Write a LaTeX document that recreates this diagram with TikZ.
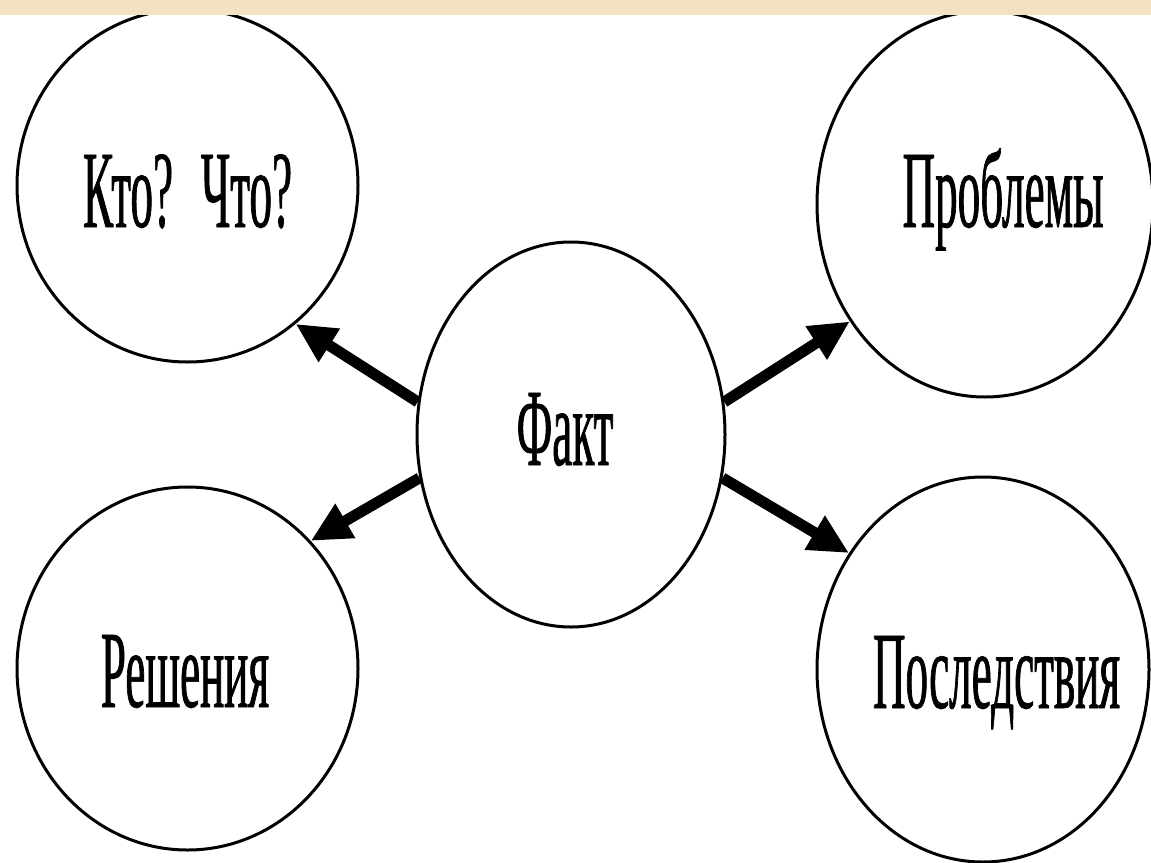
\documentclass[tikz,border=0pt]{standalone}
\usepackage{fontspec}
\newfontfamily\condfont{Liberation Serif}[FakeStretch=0.41,FakeBold=0.6]
\usetikzlibrary{shapes.geometric,arrows.meta}
\definecolor{stripbeige}{RGB}{242,226,192}
\tikzset{
  bubble/.style={ellipse, draw=black, line width=3pt, inner sep=0pt, fill=white},
  lbl/.style={anchor=base, inner sep=0pt, font=\condfont\fontsize{110}{120}\selectfont},
  link/.style={line width=11pt, -{Triangle[length=40pt,width=37pt]}}
}
\begin{document}
\begin{tikzpicture}[x=1pt,y=-1pt]
\useasboundingbox (0,0) rectangle (1151,862);
\fill[white] (0,0) rectangle (1151,862);
% circles
\node[bubble, minimum width=341pt, minimum height=353pt] (kto) at (187.5,185.5) {};
\node[bubble, minimum width=336pt, minimum height=386pt] (prob) at (985,204) {};
\node[bubble, minimum width=308pt, minimum height=385pt] (fact) at (571,434.5) {};
\node[bubble, minimum width=341pt, minimum height=363pt] (resh) at (187.5,668.5) {};
\node[bubble, minimum width=332pt, minimum height=385pt] (posl) at (983,669.5) {};
% texts
\node[lbl] (tkto) at (187.5,227) {Кто?\hspace{28pt}Что?};
\node[lbl] (tprob) at (1003,227) {Проблемы};
\node[lbl] (tfact) at (565,465) {Факт};
\node[lbl] (tresh) at (185,707) {Решения};
\node[lbl] (tposl) at (996.5,708) {Последствия};
% arrows
\draw[link] (fact.168.2) -- (kto.308.4);
\draw[link] (fact.196.3) -- (resh.46.0);
\draw[link] (fact.12.1) -- (prob.221.9);
\draw[link] (fact.344.3) -- (posl.139.1);
% top strip
\fill[stripbeige] (0,0) rectangle (1151,15);
\end{tikzpicture}
\end{document}
